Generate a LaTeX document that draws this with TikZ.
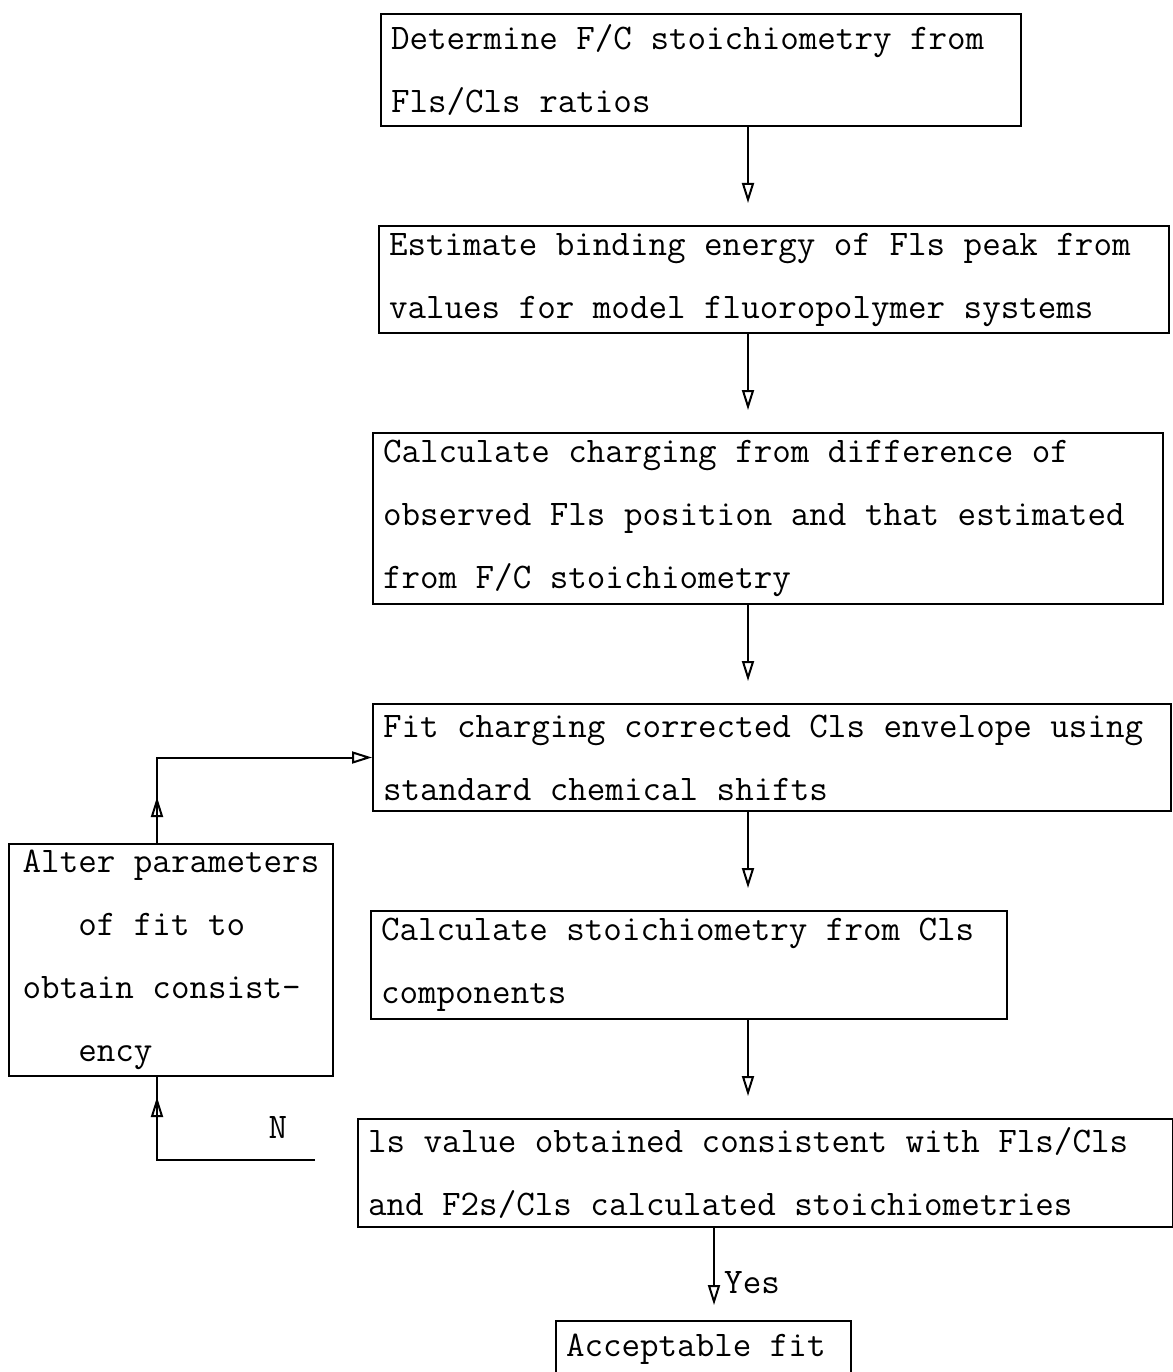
\documentclass[tikz,border=0pt]{standalone}
\usepackage{fontspec}
\usetikzlibrary{arrows.meta, positioning, decorations.markings}

\begin{document}
\begin{tikzpicture}[
    x=1pt, y=-1pt,
    txt/.style={font=\ttfamily\fontsize{36}{63}\selectfont},
    block/.style={draw, txt, line width=2pt, anchor=north west, align=flush left, inner xsep=10pt, inner ysep=0pt},
    label/.style={txt, inner sep=0pt},
    arrow/.style={-{Triangle[open, length=20pt, width=12pt]}, line width=2pt, shorten >=22pt},
    loop/.style={line width=2pt, postaction={decorate}, decoration={markings, mark=at position #1 with {\arrow{Triangle[open, length=20pt, width=12pt]}}}}
]
\useasboundingbox (0,0) rectangle (1172,1372);

\coordinate (spine) at (748,0);
\coordinate (yesx) at (714,0);
\coordinate (loopx) at (157,0);

% main column
\node[block, text width=620pt, minimum height=112pt] (ratio) at (380,13) {Determine F/C stoichiometry from\\Fls/Cls ratios};
\node[block, text width=770pt, minimum height=107pt] (binding) at (378,225) {Estimate binding energy of Fls peak from\\values for model fluoropolymer systems};
\node[block, text width=770pt, minimum height=171pt] (charging) at (372,432) {Calculate charging from difference of\\observed Fls position and that estimated\\from F/C stoichiometry};
\node[block, text width=778pt, minimum height=107pt] (fitenv) at (372,703) {Fit charging corrected Cls envelope using\\standard chemical shifts};
\node[block, text width=616pt, minimum height=108pt] (stoich) at (370,910) {Calculate stoichiometry from Cls\\components};
\node[block, text width=795pt, minimum height=108pt] (consist) at (357,1118) {ls value obtained consistent with Fls/Cls\\and F2s/Cls calculated stoichiometries};
\node[block, text width=275pt, minimum height=56pt] (accept) at (555,1320) {Acceptable fit};

\draw[arrow] (ratio.south -| spine) -- (binding.north -| spine);
\draw[arrow] (binding.south -| spine) -- (charging.north -| spine);
\draw[arrow] (charging.south -| spine) -- (fitenv.north -| spine);
\draw[arrow] (fitenv.south -| spine) -- (stoich.north -| spine);
\draw[arrow] (stoich.south -| spine) -- (consist.north -| spine);
\draw[arrow, shorten >=15pt] (consist.south -| yesx) -- (accept.north -| yesx);
\node[label, anchor=west] (yes) at (724,1283) {Yes};

% feedback loop
\node[block, align=left, minimum width=324pt, minimum height=232pt] (alter) at (8,843) {Alter parameters\\\hphantom{xxx}of fit to\\obtain consist-\\\hphantom{xxx}ency};
\coordinate (nend) at (315,1160);
\node[label] (nlbl) at (278,1127) {N};

\draw[loop=221pt] (nend) -| (alter.south -| loopx);
\draw[loop=46pt, -{Triangle[open, length=20pt, width=12pt]}] (alter.north -| loopx) |- (fitenv.west);

\end{tikzpicture}
\end{document}
